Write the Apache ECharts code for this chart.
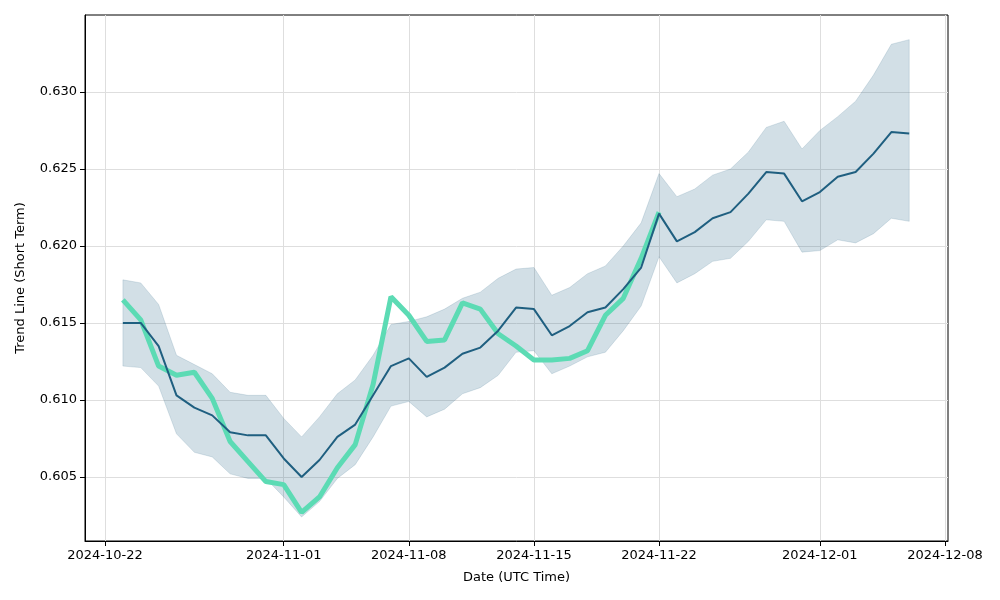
<!DOCTYPE html>
<html>
<head>
<meta charset="utf-8">
<script src="https://cdn.jsdelivr.net/npm/echarts@6/dist/echarts.min.js"></script>
<style>html,body{margin:0;padding:0;background:#fff}#c{width:1000px;height:600px}</style>
</head>
<body>
<div id="c"></div>
<script>
const dates = ['2024-10-23','2024-10-24','2024-10-25','2024-10-26','2024-10-27','2024-10-28','2024-10-29','2024-10-30','2024-10-31','2024-11-01',
'2024-11-02','2024-11-03','2024-11-04','2024-11-05','2024-11-06','2024-11-07','2024-11-08','2024-11-09','2024-11-10','2024-11-11',
'2024-11-12','2024-11-13','2024-11-14','2024-11-15','2024-11-16','2024-11-17','2024-11-18','2024-11-19','2024-11-20','2024-11-21',
'2024-11-22','2024-11-23','2024-11-24','2024-11-25','2024-11-26','2024-11-27','2024-11-28','2024-11-29','2024-11-30','2024-12-01',
'2024-12-02','2024-12-03','2024-12-04','2024-12-05','2024-12-06'];
const trend = [0.6150,0.6150,0.6135,0.6103,0.6095,0.6090,0.6079,0.6077,0.6077,0.6062,
0.6050,0.6061,0.6076,0.6084,0.6103,0.6122,0.6127,0.6115,0.6121,0.6130,
0.6134,0.6145,0.6160,0.6159,0.6142,0.6148,0.6157,0.6160,0.6172,0.6186,
0.6221,0.6203,0.6209,0.6218,0.6222,0.6234,0.6248,0.6247,0.6229,0.6235,
0.6245,0.6248,0.6260,0.6274,0.6273];
const upper = [0.6178,0.6176,0.6162,0.6129,0.6123,0.6117,0.6105,0.6103,0.6103,0.6088,
0.6076,0.6089,0.6104,0.6113,0.6129,0.6149,0.6151,0.6154,0.6159,0.6166,
0.6170,0.6179,0.6185,0.6186,0.6168,0.6173,0.6182,0.6187,0.6200,0.6215,
0.6247,0.6232,0.6237,0.6246,0.6250,0.6261,0.6277,0.6281,0.6263,0.6275,
0.6284,0.6294,0.6311,0.6331,0.6334];
const lower = [0.6122,0.6121,0.6109,0.6078,0.6066,0.6063,0.6052,0.6049,0.6049,0.6037,
0.6024,0.6034,0.6049,0.6058,0.6076,0.6096,0.6099,0.6089,0.6094,0.6104,
0.6108,0.6116,0.6131,0.6132,0.6117,0.6122,0.6128,0.6131,0.6145,0.6161,
0.6193,0.6176,0.6182,0.6190,0.6192,0.6203,0.6217,0.6216,0.6196,0.6197,
0.6204,0.6202,0.6208,0.6218,0.6216];
const actualDates = dates.slice(0, 31);
const actual = [0.6165,0.6152,0.6122,0.6116,0.6118,0.6101,0.6073,0.6060,0.6047,0.6045,
0.6027,0.6037,0.6056,0.6071,0.6110,0.6167,0.6155,0.6138,0.6139,0.6163,
0.6159,0.6143,0.6135,0.6126,0.6126,0.6127,0.6132,0.6155,0.6166,0.6192,
0.6222];
const xTickLabels = ['2024-10-22','2024-11-01','2024-11-08','2024-11-15','2024-11-22','2024-12-01','2024-12-08'];
const yTickLabels = [0.605,0.610,0.615,0.620,0.625,0.630];

function ts(s){const p=s.split('-').map(Number);return Date.UTC(p[0],p[1]-1,p[2]);}
function fmt(v){const d=new Date(v);const m=d.getUTCMonth()+1, dd=d.getUTCDate();return d.getUTCFullYear()+'-'+(m<10?'0':'')+m+'-'+(dd<10?'0':'')+dd;}
const DAY = 86400000;
const font = 'DejaVu Sans';
const bandData = dates.map((d,i)=>[ts(d), lower[i], upper[i]]);

const chart = echarts.init(document.getElementById('c'));
chart.setOption({
  animation:false,
  backgroundColor:'#fff',
  grid:{left:85,right:52,top:15,bottom:59,show:true,borderColor:'#000',borderWidth:1,backgroundColor:'transparent'},
  xAxis:{
    type:'value',
    min: ts('2024-10-22') - 1.12*DAY,
    max: ts('2024-12-08') + 0.17*DAY,
    name:'Date (UTC Time)', nameLocation:'middle', nameGap:30,
    nameTextStyle:{fontFamily:font,fontSize:13,color:'#000'},
    axisLine:{show:true,onZero:false,lineStyle:{color:'#000',width:1}},
    axisTick:{show:true,length:5,lineStyle:{color:'#000'},customValues:xTickLabels.map(ts)},
    axisLabel:{fontFamily:font,fontSize:13,color:'#000',margin:8,showMinLabel:true,showMaxLabel:true,customValues:xTickLabels.map(ts),formatter:function(v){return fmt(v);}},
    splitLine:{show:true,lineStyle:{color:'#dedede',width:1}}
  },
  yAxis:{
    type:'value',
    min:0.60084, max:0.635,
    name:'Trend Line (Short Term)', nameLocation:'middle', nameGap:58,
    nameTextStyle:{fontFamily:font,fontSize:13,color:'#000'},
    axisLine:{show:true,onZero:false,lineStyle:{color:'#000',width:1}},
    axisTick:{show:true,length:5,lineStyle:{color:'#000'},customValues:yTickLabels},
    axisLabel:{fontFamily:font,fontSize:13,color:'#000',margin:8,customValues:yTickLabels,formatter:function(v){return v.toFixed(3);}},
    splitLine:{show:true,lineStyle:{color:'#dedede',width:1}}
  },
  series:[
    {type:'custom', z:1, data:bandData,
     renderItem:function(params, api){
       if (params.dataIndex !== 0) return null;
       const pts = [];
       for (let i=0;i<bandData.length;i++) pts.push(api.coord([bandData[i][0], bandData[i][2]]));
       for (let i=bandData.length-1;i>=0;i--) pts.push(api.coord([bandData[i][0], bandData[i][1]]));
       return {type:'polygon', shape:{points:pts},
         style:{fill:'rgba(31,95,128,0.2)', stroke:'rgba(31,95,128,0.15)', lineWidth:1}};
     }},
    {type:'line',symbol:'none',data:actualDates.map((d,i)=>[ts(d),actual[i]]),
     lineStyle:{color:'#5cdbb4',width:5},z:2},
    {type:'line',symbol:'none',data:dates.map((d,i)=>[ts(d),trend[i]]),
     lineStyle:{color:'#1f5f80',width:2},z:3}
  ]
});
</script>
</body>
</html>
